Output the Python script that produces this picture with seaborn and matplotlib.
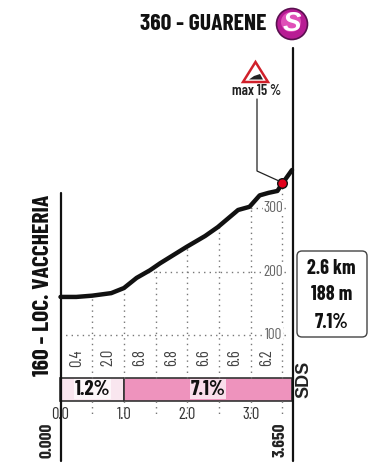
import matplotlib
matplotlib.use('Agg')
import matplotlib.pyplot as plt
from matplotlib.patches import Circle, FancyBboxPatch, Polygon
import numpy as np
import pandas as pd
import seaborn as sns

# profile
km = [0.0, 0.25, 0.5, 0.8, 1.0, 1.2, 1.41, 1.57, 1.99, 2.28, 2.48, 2.8, 2.98, 3.14, 3.28, 3.42, 3.5, 3.65]
elev = [160, 160, 162, 166, 174, 190, 202, 213, 239, 256, 270, 297, 302, 320, 324, 327, 339, 360]

grade_mid = [0.25, 0.75, 1.25, 1.75, 2.25, 2.75, 3.25]
grade_vals = ['0.4', '2.0', '6.8', '6.8', '6.6', '6.6', '6.2']

seg_start = [0.0, 1.0]
seg_end = [1.0, 3.65]
seg_labels = ['1.2%', '7.1%']
seg_colors = ['#f9e6ef', '#ee93bd']

km_ticks = [0.0, 1.0, 2.0, 3.0]
grid_km = [0.5, 1.0, 1.5, 2.0, 2.5, 3.0, 3.5]
alt_ticks = [100, 200, 300]
max_km = 3.5
GREY = '#666666'

sns.set_style('white')
plt.rcParams['font.family'] = ['Barlow Condensed', 'Liberation Sans', 'DejaVu Sans']

fig = plt.figure(figsize=(3.82, 4.69), dpi=100)
# chart axes sit exactly on the plot area, overlay is in image pixels
ax = fig.add_axes([60.5 / 382, 1 - 400.7 / 469, 231.5 / 382, 230.7 / 469])
ax.set_xlim(0, 3.65)
ax.set_ylim(-3.5, 360)
ov = fig.add_axes([0, 0, 1, 1], zorder=5)
ov.set_xlim(0, 382)
ov.set_ylim(469, 0)
ov.axis('off')
ov.patch.set_alpha(0)

dots = dict(color='#777777', lw=1, ls=(0, (1, 3)), clip_on=False)
for g in grid_km:
    ax.plot([g, g], [32, np.interp(g, km, elev)], **dots)
    ax.plot([g, g], [-3.5, -27], **dots)
for a in alt_ticks:
    start = np.interp(a, elev, km) if a > 160 else 0
    ax.plot([start, 3.2], [a, a], **dots)
    ax.plot([3.52, 3.6], [a, a], **dots)
    ax.text(3.36, a, str(a), fontsize=11, color=GREY, ha='center', va='center',
            bbox=dict(fc='white', ec='none', pad=0.5))

for x, lab in zip(grade_mid, grade_vals):
    ax.text(x, 64, lab, rotation=90, fontsize=12, color='#444444', ha='center', va='center')

for s, e, lab, c in zip(seg_start, seg_end, seg_labels, seg_colors):
    ax.bar(s, 35.5, width=e - s, bottom=-3.5, align='edge', color=c, edgecolor='#333333', lw=1.2, clip_on=False)
    ax.text((s + e) / 2, 14.5, lab, fontsize=15, fontweight='bold', color='#111111', ha='center', va='center',
            bbox=dict(fc='white', ec='none', pad=0.4, alpha=0.7))

for t in km_ticks:
    ax.text(t, -25, f'{t:.1f}', fontsize=12, color='#333333', ha='center', va='center', clip_on=False)

profile = pd.DataFrame({'km': km, 'elev': elev})
sns.lineplot(data=profile, x='km', y='elev', ax=ax, color='#111111', lw=3.2, errorbar=None,
             clip_on=False, solid_capstyle='round', zorder=4)
ax.scatter([max_km], [np.interp(max_km, km, elev)], s=48, color='#e3001b', edgecolor='#111111',
           lw=1, zorder=6, clip_on=False)
ax.axis('off')

# main verticals
ov.plot([60.5, 60.5], [193, 461.5], color='#111111', lw=1.6)
ov.plot([292.5, 292.5], [48, 461.5], color='#111111', lw=1.6)

ov.text(267, 24, '360 - GUARENE', fontsize=17, fontweight='bold', color='#111111', ha='right', va='center')
ov.text(43, 285, '160 - LOC. VACCHERIA', fontsize=17, fontweight='bold', color='#111111', rotation=90,
        ha='center', va='center')
ov.text(47, 440, '0.000', fontsize=12.5, fontweight='bold', color='#222222', rotation=90, ha='center', va='center')
ov.text(280, 440, '3.650', fontsize=12.5, fontweight='bold', color='#222222', rotation=90, ha='center', va='center')
ov.text(304, 379, 'SDS', fontsize=13, fontweight='bold', color='#222222', rotation=90, ha='center', va='center',
        family=['Liberation Sans', 'DejaVu Sans'])

# sprint badge
ov.add_patch(Circle((292, 24), 15.5, fc='#b81c94', ec='#5a1050', lw=1.2))
ov.add_patch(Circle((291, 22), 10, fc='#e050b8', ec='none'))
ov.text(292, 24, 'S', fontsize=20, fontweight='bold', fontstyle='italic', color='white', ha='center', va='center',
        family=['Liberation Sans', 'DejaVu Sans'])

# gradient warning sign and leader
ov.add_patch(Polygon([(255.5, 62), (243, 82), (268, 82)], closed=True, fc='white', ec='#d0202a', lw=1.8))
ov.add_patch(Polygon([(249, 79.5), (263, 79.5), (260, 74), (254, 76)], closed=True, fc='#222222', ec='none'))
ov.text(257, 91, 'max 15 %', fontsize=10.5, fontweight='semibold', color='#222222', ha='center', va='center')
ov.plot([257, 257, 279], [99, 171, 181], color='#222222', lw=0.9)

# climb summary box
ov.add_patch(FancyBboxPatch((300, 254), 64, 80, boxstyle='round,pad=3,rounding_size=5', fc='white',
                            ec='#444444', lw=1))
for yy, txt in zip([268, 295, 322], ['2.6 km', '188 m', '7.1%']):
    ov.text(331.5, yy, txt, fontsize=14.5, fontweight='bold', color='#111111', ha='center', va='center')

fig.savefig('out.png', dpi=100)
